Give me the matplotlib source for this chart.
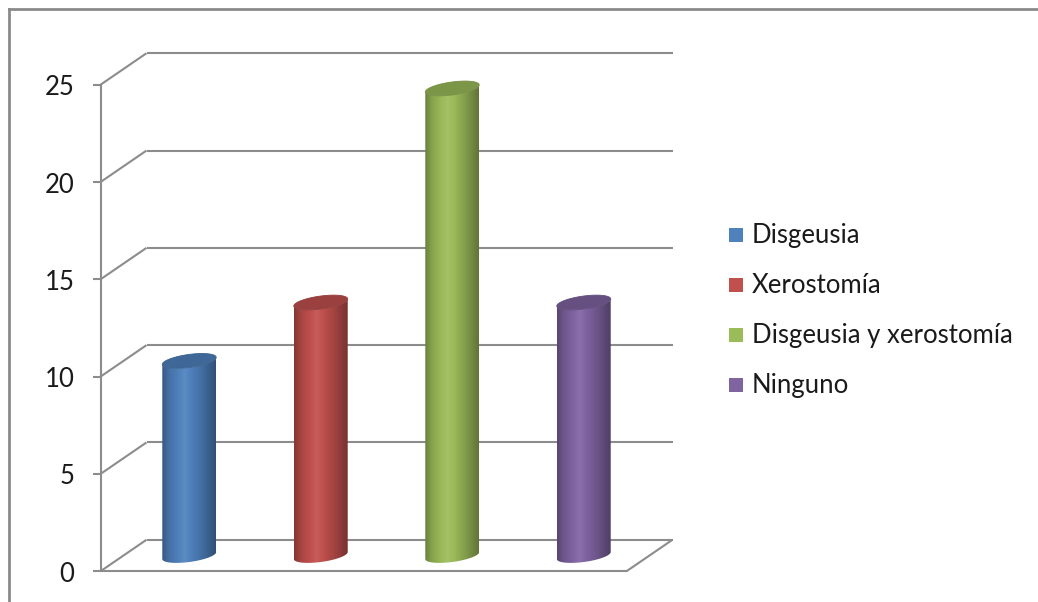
import numpy as np
import matplotlib
matplotlib.use('Agg')
import matplotlib.pyplot as plt
from matplotlib.patches import Polygon, Rectangle
from matplotlib.lines import Line2D
from matplotlib.transforms import ScaledTranslation, IdentityTransform
from matplotlib import colors as mcolors

categories = ['Disgeusia', 'Xerostomía', 'Disgeusia y xerostomía', 'Ninguno']
values = [10, 13, 24, 13]
bar_colors = ['#4F81BD', '#C0504D', '#9BBB59', '#8064A2']
yticks = [0, 5, 10, 15, 20, 25]

plt.rcParams['font.family'] = ['Lato', 'DejaVu Sans']
GRID = '#8c8c8c'
FS = 18.5

W, H = 1038, 602
fig = plt.figure(figsize=(W / 100, H / 100), dpi=100)
fig.patch.set_facecolor('white')

# axes = middle plane of the 3d box; front/back planes are pixel offsets of it
ax = fig.add_axes([123.5 / W, (H - 555.5) / H, 526 / W, 486.5 / H])
ax.set_xlim(-0.5, len(values) - 0.5)
ax.set_ylim(0, 25)
ax.axis('off')

dx, dy = 23, 15.75  # half depth in pixels
back = ax.transData + ScaledTranslation(dx / 100, dy / 100, fig.dpi_scale_trans)
front = ax.transData + ScaledTranslation(-dx / 100, -dy / 100, fig.dpi_scale_trans)
x0, x1 = ax.get_xlim()

line_kw = dict(color=GRID, lw=1.5, solid_capstyle='butt', clip_on=False)

# back wall gridlines (0 is the back edge of the floor)
for y in yticks:
    ax.plot([x0, x1], [y, y], transform=back, zorder=1, **line_kw)


def depth_line(x, y):
    px, py = ax.transData.transform((x, y))
    fig.add_artist(Line2D([px - dx, px + dx], [py - dy, py + dy],
                          transform=IdentityTransform(), zorder=1, **line_kw))


# side wall diagonals and right floor edge
for y in yticks:
    depth_line(x0, y)
depth_line(x1, 0)

# front axis, floor front edge and tick marks
ax.plot([x0, x0], [0, 25], transform=front, zorder=2, **line_kw)
ax.plot([x0, x1], [0, 0], transform=front, zorder=2, **line_kw)
ax.plot([x0] * len(yticks), yticks, transform=front, linestyle='none',
        marker=0, markersize=6, markeredgewidth=1.5, color=GRID, zorder=2,
        clip_on=False)

label_tr = front + ScaledTranslation(-0.26, -0.105, fig.dpi_scale_trans)
for y in yticks:
    ax.text(x0, y, str(y), transform=label_tr, ha='right', va='baseline',
            fontsize=FS, color='#1a1a1a')


def shaded(color, t):
    base = np.array(mcolors.to_rgb(color))
    f = np.interp(t, [0, 0.12, 0.42, 0.75, 1.0], [0.68, 0.86, 1.08, 0.84, 0.62])
    out = np.where(f[:, None] > 1, base + (1 - base) * (f[:, None] - 1), base * f[:, None])
    return np.clip(out, 0, 1)


# cylinders
bw = 0.41
semi = 6.5 / 19.45
tilt = 3.5 / 19.45
lower = np.linspace(np.pi, 2 * np.pi, 80)
full = np.linspace(0, 2 * np.pi, 160)

for i, (v, c) in enumerate(zip(values, bar_colors)):
    cx = i
    tx = cx + bw / 2 * np.cos(lower)
    top_y = v + semi * np.sin(lower) + tilt * np.cos(lower)
    bot_y = 0 + semi * np.sin(lower) + tilt * np.cos(lower)
    body = np.vstack([np.column_stack([tx, top_y]),
                      np.column_stack([tx[::-1], bot_y[::-1]])])
    clip = Polygon(body, closed=True, facecolor='none', edgecolor='none')
    ax.add_patch(clip)
    t = np.linspace(0, 1, 200)
    img = shaded(c, t)[None, :, :]
    im = ax.imshow(img, extent=[cx - bw / 2, cx + bw / 2, -1, v + 1],
                   aspect='auto', interpolation='bilinear', zorder=3)
    im.set_clip_path(clip)
    im.set_clip_box(fig.bbox)

    top = np.column_stack([cx + bw / 2 * np.cos(full),
                           v + semi * np.sin(full) + tilt * np.cos(full)])
    topc = np.array(mcolors.to_rgb(c)) * 0.8
    ax.add_patch(Polygon(top, closed=True, facecolor=topc, edgecolor=topc * 0.95,
                         lw=0.6, zorder=4, clip_on=False))

ax.set_xlim(x0, x1)
ax.set_ylim(0, 25)

# legend
for i, (name, c) in enumerate(zip(categories, bar_colors)):
    yc = 235 + 50 * i
    fig.add_artist(Rectangle((729 / W, (H - yc - 7) / H), 14 / W, 14 / H,
                             transform=fig.transFigure, facecolor=c, edgecolor='none'))
    fig.text(752 / W, (H - yc - 8) / H, name, fontsize=FS, color='#1a1a1a',
             ha='left', va='baseline')

# outer chart frame (top and left edges)
frame_kw = dict(color='#8a8a8a', lw=2, transform=fig.transFigure)
fig.add_artist(Line2D([9 / W, 1], [1 - 9 / H, 1 - 9 / H], **frame_kw))
fig.add_artist(Line2D([9 / W, 9 / W], [0, 1 - 9 / H], **frame_kw))

fig.savefig('out.png', dpi=100)
